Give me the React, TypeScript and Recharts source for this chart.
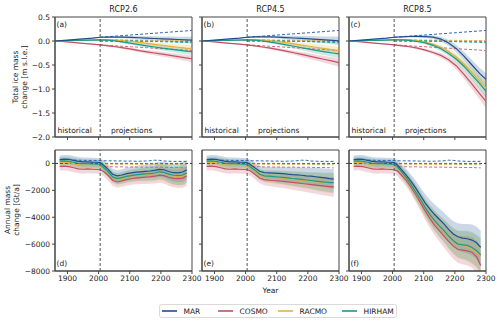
import React from "react";
import { ComposedChart, Line, Area, XAxis, YAxis, ReferenceLine, ReferenceArea } from "recharts";

const models = ["MAR", "COSMO", "RACMO", "HIRHAM"];
const modelKeys = ["mar", "cosmo", "racmo", "hirham"];
const colors = ["#1d4f8f", "#c44e63", "#e4b23a", "#1b9a84"];
const ctlColors = ["#2f67b1", "#d4677d", "#e9b84c", "#26a58e"];
const scenarios = ["RCP2.6", "RCP4.5", "RCP8.5"];
const topLabels = ["(a)", "(b)", "(c)"];
const botLabels = ["(d)", "(e)", "(f)"];

const xTicks = [1900, 2000, 2100, 2200, 2300];
const topTicks = [0.5, 0, -0.5, -1, -1.5, -2];
const botTicks = [0, -2000, -4000, -6000, -8000];

// ---- top row: cumulative mass change [m s.l.e.]
const topYears = [1860, 1900, 1940, 1980, 2005, 2030, 2055, 2080, 2105, 2130, 2155, 2180, 2205, 2230, 2255, 2280, 2300];

const topHistMAR = [0, 0.02, 0.04, 0.06, 0.078];
const topHistCOSMO = [0, -0.02, -0.045, -0.065, -0.08];
const topHistRACMO = [0, 0.008, 0.016, 0.024, 0.03];
const topHistHIRHAM = [0, 0.006, 0.012, 0.018, 0.025];
const topHistSpread = [0, 0.004, 0.007, 0.01, 0.013];

const top26MAR = [0.082, 0.083, 0.08, 0.075, 0.068, 0.06, 0.052, 0.045, 0.038, 0.031, 0.024, 0.02];
const top26COSMO = [-0.1, -0.12, -0.145, -0.17, -0.2, -0.225, -0.25, -0.275, -0.3, -0.325, -0.35, -0.37];
const top26RACMO = [0.028, 0.02, 0.005, -0.01, -0.03, -0.05, -0.07, -0.09, -0.11, -0.13, -0.15, -0.16];
const top26HIRHAM = [0.018, 0.0, -0.025, -0.05, -0.075, -0.1, -0.125, -0.15, -0.17, -0.19, -0.21, -0.22];
const top26Spread = [0.015, 0.02, 0.025, 0.03, 0.035, 0.04, 0.045, 0.05, 0.055, 0.06, 0.065, 0.07];

const top45MAR = [0.085, 0.088, 0.086, 0.08, 0.072, 0.063, 0.054, 0.044, 0.034, 0.024, 0.012, 0.004];
const top45COSMO = [-0.1, -0.125, -0.15, -0.18, -0.21, -0.245, -0.28, -0.315, -0.35, -0.385, -0.42, -0.45];
const top45RACMO = [0.028, 0.02, 0.005, -0.015, -0.035, -0.06, -0.085, -0.11, -0.135, -0.16, -0.185, -0.2];
const top45HIRHAM = [0.018, 0.0, -0.025, -0.05, -0.08, -0.11, -0.14, -0.17, -0.2, -0.225, -0.25, -0.27];
const top45Spread = [0.015, 0.02, 0.025, 0.03, 0.037, 0.044, 0.051, 0.058, 0.065, 0.072, 0.08, 0.086];

const top85MAR = [0.088, 0.094, 0.095, 0.092, 0.08, 0.04, -0.04, -0.16, -0.32, -0.5, -0.68, -0.8];
const top85COSMO = [-0.1, -0.12, -0.15, -0.19, -0.24, -0.3, -0.39, -0.52, -0.7, -0.9, -1.1, -1.26];
const top85RACMO = [0.03, 0.022, 0.005, -0.025, -0.07, -0.13, -0.22, -0.34, -0.49, -0.66, -0.84, -0.98];
const top85HIRHAM = [0.025, 0.012, -0.01, -0.04, -0.09, -0.16, -0.26, -0.38, -0.53, -0.71, -0.89, -1.05];
const top85Spread = [0.015, 0.02, 0.025, 0.03, 0.038, 0.048, 0.06, 0.075, 0.09, 0.105, 0.12, 0.135];

// control runs, 2005..2300
const topCtlMAR = [0.078, 0.09, 0.102, 0.114, 0.126, 0.138, 0.15, 0.162, 0.174, 0.186, 0.198, 0.21, 0.22];
const topCtlCOSMO = [-0.08, -0.09, -0.1, -0.11, -0.12, -0.13, -0.14, -0.15, -0.16, -0.17, -0.18, -0.19, -0.2];
const topCtlRACMO = [0.03, 0.028, 0.026, 0.024, 0.022, 0.02, 0.018, 0.016, 0.014, 0.012, 0.01, 0.008, 0.006];
const topCtlHIRHAM = [0.025, 0.02, 0.015, 0.01, 0.005, 0, -0.005, -0.01, -0.015, -0.02, -0.025, -0.03, -0.035];

// ---- bottom row: annual mass change [Gt/a]
const botHistYears = [1875, 1890, 1905, 1920, 1935, 1950, 1965, 1980, 1995, 2005];
const botProjYears = [2015, 2030, 2045, 2060, 2075, 2090, 2105, 2120, 2135, 2150, 2165, 2180, 2195, 2210, 2225, 2240, 2255, 2270, 2283];

const botHistMAR = [290, 320, 300, 230, 150, 110, 120, 100, 90, 60];
const botHistCOSMO = [-220, -200, -240, -320, -400, -430, -410, -430, -450, -470];
const botHistRACMO = [60, 80, 50, -20, -100, -130, -120, -140, -150, -170];
const botHistHIRHAM = [170, 190, 160, 90, 10, -20, -10, -40, -50, -60];
const botHistSpread = [300, 300, 320, 330, 330, 330, 320, 320, 320, 320];

const bot26MAR = [-120, -420, -800, -920, -860, -760, -700, -650, -620, -590, -560, -520, -440, -470, -600, -690, -700, -640, -480];
const bot26COSMO = [-580, -880, -1250, -1380, -1300, -1200, -1140, -1090, -1050, -1020, -990, -950, -870, -910, -1030, -1110, -1130, -1090, -930];
const bot26RACMO = [-330, -650, -1050, -1180, -1110, -1010, -950, -900, -860, -830, -800, -760, -680, -720, -850, -940, -960, -920, -760];
const bot26HIRHAM = [-280, -600, -1000, -1130, -1060, -960, -900, -850, -810, -780, -750, -710, -620, -660, -790, -880, -900, -860, -700];
const bot26Spread = [350, 380, 400, 420, 430, 440, 450, 460, 480, 500, 520, 540, 560, 580, 620, 660, 700, 720, 720];

const bot45MAR = [-80, -330, -580, -680, -700, -720, -740, -760, -800, -830, -850, -880, -920, -950, -990, -1030, -1080, -1130, -1160];
const bot45COSMO = [-540, -800, -1080, -1200, -1240, -1270, -1300, -1330, -1370, -1410, -1450, -1490, -1530, -1570, -1610, -1650, -1690, -1720, -1740];
const bot45RACMO = [-290, -550, -850, -970, -1000, -1030, -1060, -1090, -1130, -1170, -1200, -1240, -1280, -1320, -1360, -1400, -1440, -1470, -1480];
const bot45HIRHAM = [-240, -500, -800, -920, -950, -980, -1010, -1040, -1080, -1120, -1150, -1190, -1230, -1270, -1310, -1350, -1390, -1420, -1420];
const bot45Spread = [350, 380, 400, 420, 440, 460, 480, 500, 520, 540, 560, 580, 600, 620, 650, 680, 700, 720, 740];

const bot85MAR = [-100, -500, -900, -1350, -1850, -2400, -2950, -3400, -3800, -4150, -4500, -4900, -5250, -5450, -5550, -5600, -5700, -5900, -6250];
const bot85COSMO = [-550, -900, -1300, -1800, -2350, -2950, -3550, -4100, -4600, -5000, -5400, -5800, -6150, -6400, -6450, -6500, -6600, -6950, -7600];
const bot85RACMO = [-300, -700, -1150, -1650, -2200, -2750, -3350, -3850, -4300, -4700, -5050, -5450, -5800, -6050, -6100, -6200, -6350, -6600, -6900];
const bot85HIRHAM = [-250, -650, -1100, -1600, -2150, -2700, -3300, -3800, -4250, -4650, -5000, -5400, -5750, -6000, -6050, -6100, -6250, -6500, -6800];
const bot85Spread = [380, 420, 460, 500, 550, 600, 650, 700, 750, 800, 850, 900, 950, 1000, 1050, 1100, 1150, 1200, 1250];

// control runs on the full bottom grid
const botCtlMAR = [null, null, null, 250, 240, 230, 220, 230, 220, 210, 200, 190, 200, 180, 190, 170, 180, 160, 170, 180, 200, 240, 230, 180, 170, 150, 160, 150, 160];
const botCtlCOSMO = [null, null, null, null, null, null, null, null, null, -200, -230, -250, -240, -260, -250, -270, -260, -270, -280, -270, -280, -290, -280, -290, -300, -310, -300, -320, -330];
const botCtlRACMO = [null, null, null, null, null, null, null, null, null, -40, -50, -60, -50, -60, -70, -60, -70, -60, -70, -80, -70, -80, -70, -80, -90, -80, -90, -90, -100];
const botCtlHIRHAM = [null, null, null, null, null, null, null, null, null, 0, -10, 0, -10, -20, -10, 0, -10, -20, -10, -20, -10, -20, -10, -20, -30, -20, -30, -20, -30];

const topHist = [topHistMAR, topHistCOSMO, topHistRACMO, topHistHIRHAM];
const topCtl = [topCtlMAR, topCtlCOSMO, topCtlRACMO, topCtlHIRHAM];
const topProj = [
  [top26MAR, top26COSMO, top26RACMO, top26HIRHAM],
  [top45MAR, top45COSMO, top45RACMO, top45HIRHAM],
  [top85MAR, top85COSMO, top85RACMO, top85HIRHAM],
];
const topSpread = [top26Spread, top45Spread, top85Spread];

const botYears = [...botHistYears, ...botProjYears];
const botHist = [botHistMAR, botHistCOSMO, botHistRACMO, botHistHIRHAM];
const botCtl = [botCtlMAR, botCtlCOSMO, botCtlRACMO, botCtlHIRHAM];
const botProj = [
  [bot26MAR, bot26COSMO, bot26RACMO, bot26HIRHAM],
  [bot45MAR, bot45COSMO, bot45RACMO, bot45HIRHAM],
  [bot85MAR, bot85COSMO, bot85RACMO, bot85HIRHAM],
];
const botSpread = [bot26Spread, bot45Spread, bot85Spread];

const buildTop = (s: number) =>
  topYears.map((year, i) => {
    const row: any = { year, zero: i >= 4 ? 0 : null };
    modelKeys.forEach((k, m) => {
      const v = i < 5 ? topHist[m][i] : topProj[s][m][i - 5];
      const sp = i < 5 ? topHistSpread[i] : topSpread[s][i - 5];
      row[k] = v;
      row[k + "Band"] = [v - sp, v + sp];
      row[k + "Ctl"] = i >= 4 ? topCtl[m][i - 4] : null;
    });
    return row;
  });

const buildBot = (s: number) =>
  botYears.map((year, i) => {
    const n = botHistYears.length;
    const row: any = { year };
    modelKeys.forEach((k, m) => {
      const v = i < n ? botHist[m][i] : botProj[s][m][i - n];
      const sp = i < n ? botHistSpread[i] : botSpread[s][i - n];
      row[k] = v;
      row[k + "Band"] = [v - sp, v + sp];
      row[k + "Ctl"] = botCtl[m][i];
    });
    return row;
  });

const minus = (s: string) => s.replace("-", "\u2212");
const fmtTop = (v: number) => minus(v.toFixed(1));
const fmtBot = (v: number) => minus(String(v));

const FONT = "DejaVu Sans";
const AXIS = "#444";
const plotLefts = [55, 202, 349];
const plotW = 137;
const padR = 12;

type PanelProps = {
  col: number;
  top: boolean;
};

const Panel = ({ col, top }: PanelProps) => {
  const yW = col === 0 ? 40 : 6;
  const plotTop = top ? 17 : 150;
  const plotH = top ? 120 : 121;
  const xH = top ? 8 : 20;
  const mTop = 3;
  const data = top ? buildTop(col) : buildBot(col);
  const domain: [number, number] = top ? [-2, 0.5] : [-8000, 1000];
  return (
    <div style={{ position: "absolute", left: plotLefts[col] - yW, top: plotTop - mTop }}>
      <ComposedChart
        width={yW + plotW + padR}
        height={mTop + plotH + xH}
        data={data}
        margin={{ top: mTop, right: padR, bottom: 0, left: 0 }}
      >
        <XAxis
          dataKey="year"
          type="number"
          domain={[1860, 2300]}
          ticks={xTicks}
          allowDataOverflow
          height={xH}
          tickSize={3}
          stroke={AXIS}
          interval={0}
          tickFormatter={top ? () => "" : (v: number) => String(v)}
          tick={{ fontSize: 7.5, fontFamily: FONT, fill: "#222" }}
        />
        <YAxis
          type="number"
          domain={domain}
          ticks={top ? topTicks : botTicks}
          allowDataOverflow
          width={yW}
          tickSize={3}
          stroke={AXIS}
          interval={0}
          tickFormatter={col === 0 ? (top ? fmtTop : fmtBot) : () => ""}
          tick={{ fontSize: 7.5, fontFamily: FONT, fill: "#222" }}
        />
        {modelKeys.map((k, m) => (
          <Area
            key={k + "b"}
            dataKey={k + "Band"}
            stroke="none"
            fill={colors[m]}
            fillOpacity={0.22}
            isAnimationActive={false}
          />
        ))}
        {!top && <ReferenceLine y={0} stroke="#222" strokeDasharray="3 2" strokeWidth={0.9} />}
        {top && (
          <Line dataKey="zero" stroke="#222" strokeDasharray="3 2" strokeWidth={1} dot={false} isAnimationActive={false} />
        )}
        {modelKeys.map((k, m) => (
          <Line
            key={k + "c"}
            dataKey={k + "Ctl"}
            stroke={ctlColors[m]}
            strokeDasharray="3 2"
            strokeWidth={1}
            dot={false}
            isAnimationActive={false}
          />
        ))}
        {[1, 2, 3, 0].map((m) => (
          <Line
            key={modelKeys[m]}
            dataKey={modelKeys[m]}
            stroke={colors[m]}
            strokeWidth={1.2}
            dot={false}
            isAnimationActive={false}
          />
        ))}
        <ReferenceLine x={2005} stroke="#555" strokeDasharray="3 2" strokeWidth={1} />
        <ReferenceArea x1={1860} x2={2300} y1={domain[0]} y2={domain[1]} fill="none" stroke={AXIS} strokeWidth={1} />
      </ComposedChart>
    </div>
  );
};

const legendX = [162, 218, 278, 342];

const App = () => {
  return (
    <div style={{ position: "absolute", left: 0, top: 0, width: 500, height: 323, background: "#fff" }}>
      {[0, 1, 2].map((c) => (
        <Panel key={"t" + c} col={c} top />
      ))}
      {[0, 1, 2].map((c) => (
        <Panel key={"b" + c} col={c} top={false} />
      ))}
      <svg
        width={500}
        height={323}
        style={{ position: "absolute", left: 0, top: 0, pointerEvents: "none" }}
        fontFamily={FONT}
        fill="#222"
      >
        {scenarios.map((s, c) => (
          <text key={s} x={plotLefts[c] + plotW / 2} y={12} fontSize={8} textAnchor="middle">
            {s}
          </text>
        ))}
        {plotLefts.map((L, c) => (
          <g key={"lab" + c} fontSize={7.5}>
            <text x={L + 1.5} y={27}>{topLabels[c]}</text>
            <text x={L + 1.5} y={266}>{botLabels[c]}</text>
            <text x={L + 2.5} y={133}>historical</text>
            <text x={L + 56} y={133}>projections</text>
          </g>
        ))}
        <text transform="translate(18,77) rotate(-90)" fontSize={7.5} textAnchor="middle">
          <tspan x={0} dy={0}>Total ice mass</tspan>
          <tspan x={0} dy={8.5}>change [m s.l.e.]</tspan>
        </text>
        <text transform="translate(10,210) rotate(-90)" fontSize={7.5} textAnchor="middle">
          <tspan x={0} dy={0}>Annual mass</tspan>
          <tspan x={0} dy={8.5}>change [Gt/a]</tspan>
        </text>
        <text x={270.5} y={293} fontSize={7.5} textAnchor="middle">
          Year
        </text>
        <rect x={159.5} y={304.5} width={237} height={13} rx={2} fill="#fff" stroke="#d0d0d0" strokeWidth={0.8} />
        {models.map((name, m) => (
          <g key={name}>
            <line x1={legendX[m]} x2={legendX[m] + 15} y1={311} y2={311} stroke={colors[m]} strokeWidth={1.6} />
            <text x={legendX[m] + 21.5} y={313.8} fontSize={7.5}>
              {name}
            </text>
          </g>
        ))}
      </svg>
    </div>
  );
};

export default App;
